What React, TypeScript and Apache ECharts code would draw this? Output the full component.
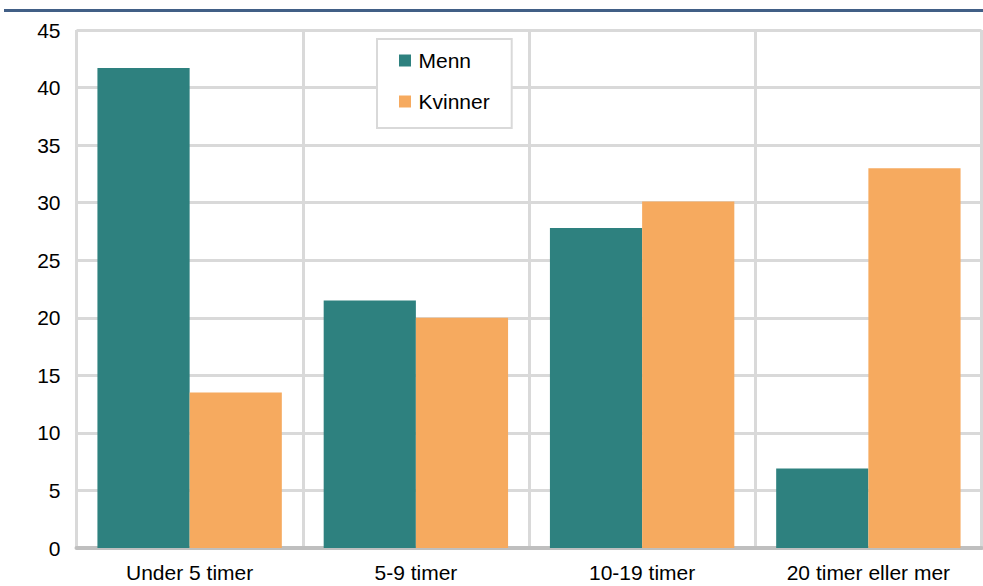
import React, { useEffect, useRef } from "react";
import * as echarts from "echarts";

const categories = ["Under 5 timer", "5-9 timer", "10-19 timer", "20 timer eller mer"];
const menn = [41.7, 21.5, 27.8, 6.9];
const kvinner = [13.5, 20.0, 30.1, 33.0];
const seriesNames = ["Menn", "Kvinner"];
const yMin = 0;
const yMax = 45;
const yStep = 5;

const FONT = "'Liberation Sans', Arial, sans-serif";

export default function App() {
  const ref = useRef<HTMLDivElement>(null);
  useEffect(() => {
    if (!ref.current) return;
    const chart = echarts.init(ref.current, undefined, { renderer: "svg" });
    chart.setOption({
      animation: false,
      backgroundColor: "#ffffff",
      textStyle: { fontFamily: FONT },
      graphic: [
        {
          type: "rect",
          shape: { x: 4, y: 9, width: 979, height: 3 },
          style: { fill: "#415f86" },
          silent: true,
        },
      ],
      grid: { left: 76.5, right: 1.5, top: 30, bottom: 38, containLabel: false },
      legend: {
        orient: "vertical",
        left: 377,
        top: 39,
        padding: [11, 22, 16, 22],
        itemGap: 20,
        itemWidth: 17,
        itemHeight: 12,
        icon: "path://M0,0L12,0L12,12L0,12Z",
        symbolKeepAspect: true,
        borderColor: "#d9d9d9",
        borderWidth: 2,
        backgroundColor: "#ffffff",
        textStyle: { fontSize: 21, color: "#000000", fontFamily: FONT },
        data: seriesNames,
      },
      xAxis: {
        type: "category",
        data: categories,
        axisLine: { show: true, lineStyle: { color: "#bfbfbf", width: 4 } },
        axisTick: { show: false },
        splitLine: { show: true, lineStyle: { color: "#d9d9d9", width: 3 } },
        axisLabel: { fontSize: 21, color: "#000000", margin: 14, fontFamily: FONT },
      },
      yAxis: {
        type: "value",
        min: yMin,
        max: yMax,
        interval: yStep,
        axisLine: { show: false },
        axisTick: { show: false },
        splitLine: { show: true, lineStyle: { color: "#d9d9d9", width: 3 } },
        axisLabel: { fontSize: 21, color: "#000000", margin: 16, fontFamily: FONT },
      },
      series: [
        {
          name: seriesNames[0],
          type: "bar",
          data: menn,
          barGap: "0%",
          barCategoryGap: "18.5%",
          itemStyle: { color: "#2e817f" },
        },
        {
          name: seriesNames[1],
          type: "bar",
          data: kvinner,
          barGap: "0%",
          barCategoryGap: "18.5%",
          itemStyle: { color: "#f6aa5f" },
        },
      ],
    });
    return () => chart.dispose();
  }, []);
  return (
    <div
      ref={ref}
      style={{ position: "fixed", left: 0, top: 0, width: 983, height: 586 }}
    />
  );
}
